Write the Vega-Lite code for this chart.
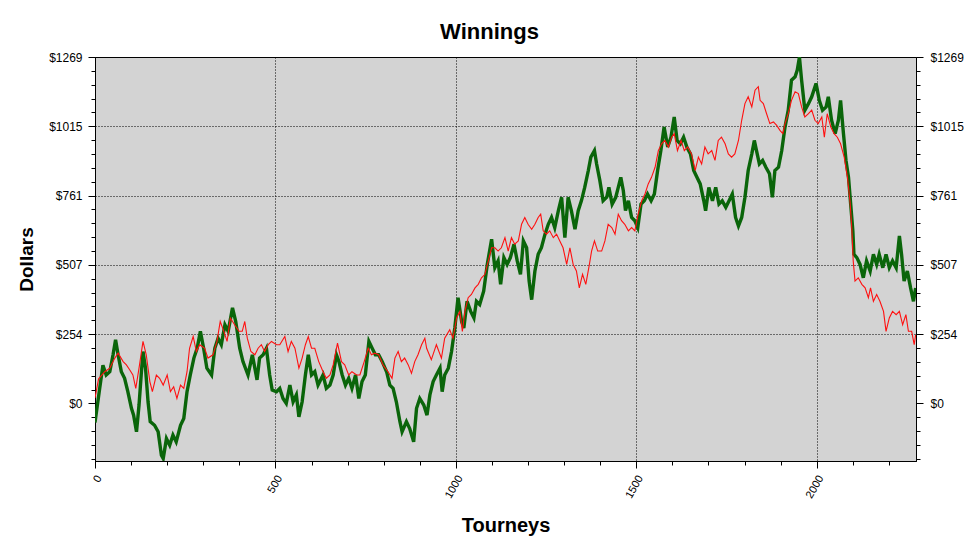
{
 "$schema": "https://vega.github.io/schema/vega-lite/v6.json",
 "width": 821, "height": 404,
 "autosize": {"type": "none"},
 "padding": {"left": 95, "top": 57, "right": 62, "bottom": 91},
 "background": "white",
 "title": {"text": "Winnings", "fontSize": 22, "font": "Liberation Sans", "fontWeight": "bold", "color": "black", "anchor": "middle", "dx": -16, "dy": 30, "offset": 15, "baseline": "bottom"},
 "config": {"view": {"fill": "#d3d3d3", "stroke": "black", "strokeWidth": 1}},
 "datasets": {
  "green": [
   {"t":0,"v":-70},{"t":13,"v":55},{"t":22,"v":140},{"t":31,"v":104},{"t":41,"v":116},{"t":50,"v":178},{"t":57,"v":233},{"t":64,"v":178},{"t":73,"v":116},{"t":82,"v":92},{"t":91,"v":43},{"t":101,"v":-18},{"t":107,"v":-43},{"t":115,"v":-104},{"t":122,"v":-6},{"t":128,"v":104},{"t":133,"v":190},{"t":140,"v":129},{"t":147,"v":6},{"t":153,"v":-67},{"t":165,"v":-80},{"t":175,"v":-104},{"t":184,"v":-190},{"t":189,"v":-202},{"t":198,"v":-129},{"t":207,"v":-153},{"t":216,"v":-116},{"t":225,"v":-141},{"t":237,"v":-80},{"t":246,"v":-55},{"t":255,"v":43},{"t":264,"v":104},{"t":274,"v":166},{"t":283,"v":202},{"t":292,"v":264},{"t":301,"v":202},{"t":310,"v":129},{"t":323,"v":104},{"t":332,"v":202},{"t":341,"v":239},{"t":350,"v":215},{"t":360,"v":288},{"t":369,"v":264},{"t":381,"v":350},{"t":390,"v":300},{"t":401,"v":202},{"t":410,"v":153},{"t":424,"v":104},{"t":436,"v":178},{"t":449,"v":86},{"t":456,"v":166},{"t":466,"v":178},{"t":475,"v":202},{"t":484,"v":104},{"t":491,"v":49},{"t":503,"v":43},{"t":512,"v":55},{"t":521,"v":18},{"t":530,"v":0},{"t":540,"v":67},{"t":549,"v":6},{"t":558,"v":31},{"t":565,"v":-49},{"t":574,"v":6},{"t":583,"v":104},{"t":591,"v":178},{"t":600,"v":104},{"t":609,"v":116},{"t":618,"v":67},{"t":632,"v":104},{"t":641,"v":55},{"t":651,"v":67},{"t":660,"v":104},{"t":669,"v":178},{"t":676,"v":153},{"t":685,"v":104},{"t":694,"v":67},{"t":703,"v":92},{"t":712,"v":55},{"t":722,"v":104},{"t":731,"v":18},{"t":740,"v":80},{"t":749,"v":104},{"t":759,"v":227},{"t":768,"v":202},{"t":777,"v":178},{"t":786,"v":178},{"t":796,"v":153},{"t":808,"v":116},{"t":817,"v":67},{"t":826,"v":55},{"t":835,"v":6},{"t":845,"v":-67},{"t":851,"v":-104},{"t":863,"v":-67},{"t":872,"v":-92},{"t":883,"v":-141},{"t":891,"v":-18},{"t":900,"v":18},{"t":911,"v":-6},{"t":920,"v":-43},{"t":928,"v":31},{"t":937,"v":80},{"t":946,"v":104},{"t":956,"v":129},{"t":962,"v":43},{"t":969,"v":104},{"t":979,"v":129},{"t":988,"v":190},{"t":997,"v":276},{"t":1006,"v":387},{"t":1016,"v":300},{"t":1022,"v":276},{"t":1031,"v":374},{"t":1041,"v":337},{"t":1050,"v":313},{"t":1057,"v":374},{"t":1066,"v":362},{"t":1077,"v":411},{"t":1087,"v":509},{"t":1099,"v":601},{"t":1108,"v":497},{"t":1117,"v":522},{"t":1124,"v":436},{"t":1133,"v":534},{"t":1142,"v":509},{"t":1151,"v":534},{"t":1161,"v":583},{"t":1170,"v":522},{"t":1179,"v":473},{"t":1187,"v":595},{"t":1196,"v":570},{"t":1203,"v":448},{"t":1210,"v":380},{"t":1219,"v":485},{"t":1228,"v":546},{"t":1237,"v":570},{"t":1247,"v":620},{"t":1256,"v":656},{"t":1265,"v":681},{"t":1274,"v":644},{"t":1284,"v":706},{"t":1293,"v":755},{"t":1302,"v":607},{"t":1311,"v":755},{"t":1320,"v":706},{"t":1330,"v":638},{"t":1339,"v":706},{"t":1348,"v":743},{"t":1357,"v":791},{"t":1367,"v":853},{"t":1374,"v":902},{"t":1384,"v":926},{"t":1390,"v":877},{"t":1399,"v":816},{"t":1408,"v":742},{"t":1418,"v":755},{"t":1424,"v":791},{"t":1433,"v":730},{"t":1443,"v":755},{"t":1450,"v":791},{"t":1457,"v":828},{"t":1464,"v":779},{"t":1470,"v":706},{"t":1478,"v":742},{"t":1487,"v":681},{"t":1496,"v":669},{"t":1504,"v":644},{"t":1513,"v":730},{"t":1522,"v":742},{"t":1531,"v":767},{"t":1541,"v":742},{"t":1550,"v":767},{"t":1559,"v":853},{"t":1568,"v":926},{"t":1577,"v":1012},{"t":1587,"v":939},{"t":1596,"v":975},{"t":1605,"v":1049},{"t":1613,"v":963},{"t":1622,"v":951},{"t":1631,"v":975},{"t":1640,"v":939},{"t":1650,"v":914},{"t":1659,"v":853},{"t":1668,"v":828},{"t":1677,"v":804},{"t":1687,"v":742},{"t":1692,"v":706},{"t":1701,"v":791},{"t":1711,"v":742},{"t":1720,"v":791},{"t":1729,"v":730},{"t":1738,"v":742},{"t":1748,"v":718},{"t":1757,"v":742},{"t":1766,"v":767},{"t":1775,"v":681},{"t":1783,"v":650},{"t":1792,"v":681},{"t":1801,"v":755},{"t":1810,"v":853},{"t":1820,"v":914},{"t":1827,"v":963},{"t":1833,"v":926},{"t":1841,"v":877},{"t":1850,"v":890},{"t":1859,"v":865},{"t":1869,"v":841},{"t":1877,"v":755},{"t":1884,"v":853},{"t":1894,"v":865},{"t":1903,"v":926},{"t":1912,"v":1012},{"t":1921,"v":1074},{"t":1930,"v":1184},{"t":1940,"v":1196},{"t":1946,"v":1221},{"t":1952,"v":1268},{"t":1958,"v":1184},{"t":1967,"v":1074},{"t":1977,"v":1098},{"t":1986,"v":1123},{"t":1998,"v":1172},{"t":2007,"v":1110},{"t":2016,"v":1074},{"t":2026,"v":1086},{"t":2032,"v":1123},{"t":2041,"v":1037},{"t":2051,"v":988},{"t":2060,"v":1037},{"t":2066,"v":1110},{"t":2074,"v":988},{"t":2081,"v":890},{"t":2088,"v":828},{"t":2094,"v":730},{"t":2100,"v":632},{"t":2103,"v":546},{"t":2111,"v":534},{"t":2120,"v":509},{"t":2129,"v":460},{"t":2138,"v":522},{"t":2148,"v":485},{"t":2157,"v":546},{"t":2166,"v":509},{"t":2173,"v":546},{"t":2183,"v":497},{"t":2192,"v":546},{"t":2201,"v":497},{"t":2210,"v":522},{"t":2220,"v":497},{"t":2229,"v":613},{"t":2235,"v":546},{"t":2242,"v":448},{"t":2251,"v":485},{"t":2260,"v":423},{"t":2268,"v":374},{"t":2274,"v":423}
  ],
  "red": [
   {"t":0,"v":20},{"t":10,"v":90},{"t":27,"v":116},{"t":41,"v":129},{"t":55,"v":166},{"t":64,"v":184},{"t":78,"v":153},{"t":87,"v":141},{"t":96,"v":123},{"t":105,"v":104},{"t":113,"v":55},{"t":122,"v":129},{"t":133,"v":227},{"t":142,"v":178},{"t":152,"v":80},{"t":159,"v":43},{"t":170,"v":104},{"t":179,"v":92},{"t":189,"v":67},{"t":200,"v":104},{"t":209,"v":43},{"t":218,"v":61},{"t":227,"v":18},{"t":237,"v":67},{"t":246,"v":55},{"t":255,"v":116},{"t":262,"v":202},{"t":272,"v":245},{"t":281,"v":190},{"t":290,"v":215},{"t":304,"v":202},{"t":313,"v":166},{"t":327,"v":178},{"t":338,"v":227},{"t":347,"v":300},{"t":357,"v":264},{"t":366,"v":227},{"t":375,"v":313},{"t":387,"v":288},{"t":399,"v":264},{"t":408,"v":264},{"t":415,"v":300},{"t":422,"v":239},{"t":432,"v":190},{"t":443,"v":178},{"t":452,"v":202},{"t":461,"v":215},{"t":470,"v":190},{"t":480,"v":215},{"t":489,"v":227},{"t":503,"v":215},{"t":512,"v":215},{"t":526,"v":245},{"t":535,"v":190},{"t":544,"v":227},{"t":554,"v":202},{"t":565,"v":129},{"t":574,"v":166},{"t":583,"v":215},{"t":591,"v":245},{"t":600,"v":202},{"t":609,"v":202},{"t":620,"v":153},{"t":632,"v":116},{"t":641,"v":92},{"t":651,"v":104},{"t":660,"v":141},{"t":672,"v":221},{"t":683,"v":153},{"t":692,"v":141},{"t":703,"v":104},{"t":712,"v":116},{"t":725,"v":104},{"t":734,"v":104},{"t":746,"v":153},{"t":757,"v":202},{"t":766,"v":178},{"t":775,"v":184},{"t":786,"v":178},{"t":798,"v":141},{"t":812,"v":116},{"t":823,"v":92},{"t":831,"v":166},{"t":840,"v":190},{"t":849,"v":153},{"t":858,"v":166},{"t":868,"v":141},{"t":877,"v":110},{"t":886,"v":153},{"t":895,"v":178},{"t":905,"v":215},{"t":914,"v":239},{"t":919,"v":202},{"t":932,"v":160},{"t":946,"v":215},{"t":960,"v":166},{"t":969,"v":239},{"t":983,"v":270},{"t":992,"v":239},{"t":1002,"v":313},{"t":1011,"v":337},{"t":1018,"v":264},{"t":1025,"v":337},{"t":1034,"v":387},{"t":1043,"v":399},{"t":1053,"v":423},{"t":1062,"v":436},{"t":1071,"v":460},{"t":1080,"v":472},{"t":1090,"v":522},{"t":1099,"v":570},{"t":1108,"v":570},{"t":1117,"v":558},{"t":1126,"v":570},{"t":1136,"v":607},{"t":1145,"v":558},{"t":1154,"v":607},{"t":1163,"v":583},{"t":1173,"v":595},{"t":1182,"v":656},{"t":1191,"v":681},{"t":1200,"v":656},{"t":1210,"v":638},{"t":1219,"v":656},{"t":1228,"v":681},{"t":1235,"v":693},{"t":1242,"v":632},{"t":1251,"v":620},{"t":1260,"v":632},{"t":1270,"v":607},{"t":1279,"v":620},{"t":1288,"v":595},{"t":1297,"v":570},{"t":1307,"v":509},{"t":1316,"v":570},{"t":1325,"v":509},{"t":1334,"v":485},{"t":1342,"v":423},{"t":1351,"v":473},{"t":1360,"v":436},{"t":1370,"v":509},{"t":1376,"v":558},{"t":1384,"v":595},{"t":1393,"v":558},{"t":1404,"v":558},{"t":1413,"v":595},{"t":1422,"v":656},{"t":1432,"v":644},{"t":1441,"v":620},{"t":1450,"v":693},{"t":1459,"v":669},{"t":1468,"v":656},{"t":1478,"v":632},{"t":1487,"v":644},{"t":1496,"v":632},{"t":1505,"v":693},{"t":1515,"v":742},{"t":1524,"v":767},{"t":1533,"v":804},{"t":1542,"v":828},{"t":1552,"v":865},{"t":1561,"v":926},{"t":1570,"v":951},{"t":1579,"v":963},{"t":1589,"v":939},{"t":1598,"v":975},{"t":1605,"v":988},{"t":1614,"v":926},{"t":1624,"v":963},{"t":1633,"v":926},{"t":1642,"v":939},{"t":1653,"v":914},{"t":1663,"v":853},{"t":1672,"v":902},{"t":1681,"v":877},{"t":1690,"v":939},{"t":1699,"v":914},{"t":1709,"v":926},{"t":1718,"v":890},{"t":1727,"v":963},{"t":1736,"v":975},{"t":1746,"v":951},{"t":1755,"v":914},{"t":1764,"v":902},{"t":1773,"v":914},{"t":1783,"v":963},{"t":1792,"v":1037},{"t":1801,"v":1098},{"t":1810,"v":1123},{"t":1820,"v":1086},{"t":1829,"v":1147},{"t":1838,"v":1160},{"t":1843,"v":1110},{"t":1852,"v":1098},{"t":1861,"v":1061},{"t":1870,"v":1025},{"t":1880,"v":1031},{"t":1889,"v":1018},{"t":1898,"v":1000},{"t":1906,"v":988},{"t":1912,"v":1025},{"t":1921,"v":1061},{"t":1930,"v":1110},{"t":1940,"v":1141},{"t":1949,"v":1135},{"t":1958,"v":1086},{"t":1967,"v":1049},{"t":1977,"v":1061},{"t":1986,"v":1074},{"t":1995,"v":1037},{"t":2004,"v":1025},{"t":2014,"v":1049},{"t":2021,"v":975},{"t":2029,"v":1061},{"t":2039,"v":1012},{"t":2048,"v":988},{"t":2057,"v":975},{"t":2066,"v":951},{"t":2076,"v":902},{"t":2085,"v":828},{"t":2092,"v":742},{"t":2097,"v":644},{"t":2101,"v":522},{"t":2106,"v":448},{"t":2115,"v":460},{"t":2125,"v":436},{"t":2134,"v":423},{"t":2143,"v":387},{"t":2149,"v":423},{"t":2157,"v":374},{"t":2166,"v":399},{"t":2175,"v":374},{"t":2185,"v":337},{"t":2192,"v":264},{"t":2201,"v":313},{"t":2210,"v":337},{"t":2220,"v":325},{"t":2229,"v":337},{"t":2238,"v":288},{"t":2247,"v":325},{"t":2254,"v":264},{"t":2263,"v":264},{"t":2270,"v":215},{"t":2274,"v":251}
  ]
 },
 "layer": [
  {
   "mark": {"type": "rule", "color": "black", "strokeWidth": 1.2},
   "encoding": {"y": {"datum": 0, "type": "quantitative", "scale": {"domain": [-211, 1268.75], "nice": false, "zero": false}, "axis": null}}
  },
  {
   "data": {"name": "green"},
   "mark": {"type": "line", "color": "#0a650a", "strokeWidth": 3.4, "clip": true},
   "encoding": {
    "x": {"field": "t", "type": "quantitative", "scale": {"domain": [0, 2275], "nice": false, "zero": false},
     "axis": {"orient": "bottom", "values": [0,100,200,300,400,500,600,700,800,900,1000,1100,1200,1300,1400,1500,1600,1700,1800,1900,2000,2100,2200],
      "labelExpr": "datum.value % 500 == 0 ? '' + datum.value : ''",
      "labelAngle": -60, "labelAlign": "right", "labelBaseline": "middle", "labelPadding": 8, "labelOffset": 4,
      "labelFont": "Liberation Sans", "labelFontSize": 11, "labelColor": "black", "labelFlush": false, "labelOverlap": false, "labelBound": false,
      "tickSize": {"condition": {"test": "datum.value % 500 == 0", "value": 7}, "value": 4},
      "tickColor": "black", "domainColor": "black",
      "grid": true, "gridColor": "black", "gridDash": [1, 2],
      "gridOpacity": {"condition": {"test": "datum.value % 500 == 0 && datum.value > 0", "value": 1}, "value": 0},
      "title": "Tourneys", "titleFont": "Liberation Sans", "titleFontSize": 20, "titleFontWeight": "bold", "titleColor": "black", "titlePadding": 16}},
    "y": {"field": "v", "type": "quantitative", "scale": {"domain": [-211, 1268.75], "nice": false, "zero": false},
     "axis": {"orient": "right", "values": [-203,-152.25,-101.5,-50.75,0,50.75,101.5,152.25,203,253.75,304.5,355.25,406,456.75,507.5,558.25,609,659.75,710.5,761.25,812,862.75,913.5,964.25,1015,1065.75,1116.5,1167.25,1218,1268.75],
      "labelExpr": "datum.value == 0 ? '$0' : datum.value == 253.75 ? '$254' : datum.value == 507.5 ? '$507' : datum.value == 761.25 ? '$761' : datum.value == 1015 ? '$1015' : datum.value == 1268.75 ? '$1269' : ''",
      "tickSize": {"condition": {"test": "indexof([0,253.75,507.5,761.25,1015,1268.75], datum.value) >= 0", "value": 7}, "value": 4},
      "tickColor": "black", "domainColor": "black", "grid": false,
      "labelFont": "Liberation Sans", "labelFontSize": 12, "labelColor": "black", "labelPadding": 7, "labelFlush": false, "labelOverlap": false, "labelBound": false,
      "title": null}}
   }
  },
  {
   "data": {"name": "red"},
   "mark": {"type": "line", "color": "#ff1010", "strokeWidth": 1.1, "clip": true},
   "encoding": {
    "x": {"field": "t", "type": "quantitative", "scale": {"domain": [0, 2275], "nice": false, "zero": false},
     "axis": {"orient": "bottom", "values": [0,100,200,300,400,500,600,700,800,900,1000,1100,1200,1300,1400,1500,1600,1700,1800,1900,2000,2100,2200],
      "labelExpr": "datum.value % 500 == 0 ? '' + datum.value : ''",
      "labelAngle": -60, "labelAlign": "right", "labelBaseline": "middle", "labelPadding": 8, "labelOffset": 4,
      "labelFont": "Liberation Sans", "labelFontSize": 11, "labelColor": "black", "labelFlush": false, "labelOverlap": false, "labelBound": false,
      "tickSize": {"condition": {"test": "datum.value % 500 == 0", "value": 7}, "value": 4},
      "tickColor": "black", "domainColor": "black",
      "grid": true, "gridColor": "black", "gridDash": [1, 2],
      "gridOpacity": {"condition": {"test": "datum.value % 500 == 0 && datum.value > 0", "value": 1}, "value": 0},
      "title": "Tourneys", "titleFont": "Liberation Sans", "titleFontSize": 20, "titleFontWeight": "bold", "titleColor": "black", "titlePadding": 16}},
    "y": {"field": "v", "type": "quantitative", "scale": {"domain": [-211, 1268.75], "nice": false, "zero": false},
     "axis": {"orient": "left", "values": [-203,-152.25,-101.5,-50.75,0,50.75,101.5,152.25,203,253.75,304.5,355.25,406,456.75,507.5,558.25,609,659.75,710.5,761.25,812,862.75,913.5,964.25,1015,1065.75,1116.5,1167.25,1218,1268.75],
      "labelExpr": "datum.value == 0 ? '$0' : datum.value == 253.75 ? '$254' : datum.value == 507.5 ? '$507' : datum.value == 761.25 ? '$761' : datum.value == 1015 ? '$1015' : datum.value == 1268.75 ? '$1269' : ''",
      "tickSize": {"condition": {"test": "indexof([0,253.75,507.5,761.25,1015,1268.75], datum.value) >= 0", "value": 7}, "value": 4},
      "tickColor": "black", "domainColor": "black",
      "grid": true, "gridColor": "black", "gridDash": [1, 2],
      "gridOpacity": {"condition": {"test": "indexof([253.75,507.5,761.25,1015,1268.75], datum.value) >= 0", "value": 1}, "value": 0},
      "labelFont": "Liberation Sans", "labelFontSize": 12, "labelColor": "black", "labelPadding": 6, "labelFlush": false, "labelOverlap": false, "labelBound": false,
      "title": "Dollars", "titleFont": "Liberation Sans", "titleFontSize": 19, "titleFontWeight": "bold", "titleColor": "black", "titlePadding": 12}}
   }
  }
 ],
 "resolve": {"scale": {"y": "independent"}}
}
